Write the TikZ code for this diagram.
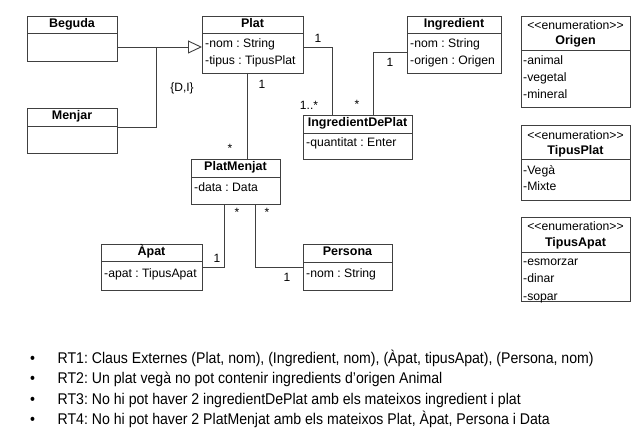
\documentclass[tikz,border=0pt]{standalone}
\usepackage{fontspec}
\setmainfont{Liberation Sans}
\newfontfamily\narrowfont{Liberation Sans}[FakeStretch=0.91]
\usetikzlibrary{arrows.meta}
\definecolor{lc}{HTML}{404040}
\frenchspacing
\newcommand{\enumst}{<\kern0pt<enumeration>\kern0pt>}
\begin{document}
\begin{tikzpicture}[x=1pt,y=-1pt,
  cls/.style={draw=lc, line width=0.9pt, inner sep=0pt, anchor=north west, fill=white},
  ttl/.style={font=\fontsize{12.5}{14}\selectfont\bfseries, inner sep=0pt, text height=9pt, text depth=3pt},
  att/.style={font=\fontsize{12.2}{14}\selectfont, inner sep=0pt, anchor=west, text height=9pt, text depth=3pt},
  mul/.style={font=\fontsize{12}{14}\selectfont, inner sep=0pt},
  ln/.style={draw=lc, line width=0.9pt},
  bul/.style={font=\fontsize{15.5}{17}\selectfont\narrowfont, inner sep=0pt, anchor=west, text height=11pt, text depth=0pt}]
\useasboundingbox (0,0) rectangle (639,443);
% Beguda
\node[cls, minimum width=90pt, minimum height=45pt] (beguda) at (27,16) {};
\node[ttl] (begudaT) at (72,25) {Beguda};
\draw[ln] (27,33) -- (117,33);
% Menjar
\node[cls, minimum width=90pt, minimum height=45pt] (menjar) at (27,108) {};
\node[ttl] (menjarT) at (72,117) {Menjar};
\draw[ln] (27,126) -- (117,126);
% Plat
\node[cls, minimum width=101pt, minimum height=57pt] (plat) at (202,16) {};
\node[ttl] (platT) at (252.5,25) {Plat};
\draw[ln] (202,33) -- (303,33);
\node[att] (plat1) at (205,45) {-nom : String};
\node[att] (plat2) at (205,62) {-tipus : TipusPlat};
% Ingredient
\node[cls, minimum width=94pt, minimum height=57pt] (ingr) at (407,16) {};
\node[ttl] (ingrT) at (454,25) {Ingredient};
\draw[ln] (407,33) -- (501,33);
\node[att] (ingr1) at (410,45) {-nom : String};
\node[att] (ingr2) at (410,62) {-origen : Origen};
% IngredientDePlat
\node[cls, minimum width=109pt, minimum height=44pt] (idp) at (303,115) {};
\node[ttl] (idpT) at (357.5,124) {IngredientDePlat};
\draw[ln] (303,133) -- (412,133);
\node[att] (idp1) at (306,144) {-quantitat : Enter};
% PlatMenjat
\node[cls, minimum width=89pt, minimum height=45pt] (pm) at (191,159) {};
\node[ttl] (pmT) at (235.5,168) {PlatMenjat};
\draw[ln] (191,177) -- (280,177);
\node[att] (pm1) at (194,189) {-data : Data};
% Apat
\node[cls, minimum width=101pt, minimum height=46pt] (apat) at (101,244) {};
\node[ttl] (apatT) at (151.5,253) {Àpat};
\draw[ln] (101,261) -- (202,261);
\node[att] (apat1) at (104,274) {-apat : TipusApat};
% Persona
\node[cls, minimum width=89pt, minimum height=46pt] (pers) at (303,244) {};
\node[ttl] (persT) at (347.5,253) {Persona};
\draw[ln] (303,262) -- (392,262);
\node[att] (pers1) at (306,274) {-nom : String};
% Origen
\node[cls, minimum width=109pt, minimum height=91pt] (orig) at (521,16) {};
\node[att, anchor=center] (origS) at (575.5,27) {\enumst};
\node[ttl] (origT) at (575.5,42) {Origen};
\draw[ln] (521,50) -- (630,50);
\node[att] (orig1) at (523,62) {-animal};
\node[att] (orig2) at (523,79) {-vegetal};
\node[att] (orig3) at (523,96) {-mineral};
% TipusPlat
\node[cls, minimum width=109pt, minimum height=75pt] (tp) at (521,125) {};
\node[att, anchor=center] (tpS) at (575.5,137) {\enumst};
\node[ttl] (tpT) at (575.5,152) {TipusPlat};
\draw[ln] (521,159) -- (630,159);
\node[att] (tp1) at (523,172) {-Vegà};
\node[att] (tp2) at (523,188) {-Mixte};
% TipusApat
\node[cls, minimum width=109pt, minimum height=84pt] (ta) at (521,217) {};
\node[att, anchor=center] (taS) at (575.5,228) {\enumst};
\node[ttl] (taT) at (575.5,244) {TipusApat};
\draw[ln] (521,252) -- (630,252);
\node[att] (ta1) at (523,263) {-esmorzar};
\node[att] (ta2) at (523,280) {-dinar};
\node[att] (ta3) at (523,297) {-sopar};
% Connectors
\coordinate (g) at (156,47);
\draw[ln, -{Triangle[open, length=14pt, width=13pt, fill=white]}] (beguda.east |- g) -- (plat.west |- g);
\draw[ln] (menjar.east |- 0,127) -| (g);
\node[mul] (di) at (182,88) {\{D,I\}};
% Plat - IngredientDePlat
\coordinate (c1) at (332,47);
\draw[ln] (plat.east |- c1) -- (c1) -- (c1 |- idp.north);
\node[mul] (m1) at (318,38) {1};
\node[mul] (m2) at (309,105) {1..*};
% Ingredient - IngredientDePlat
\coordinate (c2) at (373,52);
\draw[ln] (ingr.west |- c2) -- (c2) -- (c2 |- idp.north);
\node[mul] (m3) at (390,62) {1};
\node[mul] (m4) at (357,104) {*};
% Plat - PlatMenjat
\coordinate (c3) at (247,73);
\draw[ln] (c3) -- (c3 |- pm.north);
\node[mul] (m5) at (262,84) {1};
\node[mul] (m6) at (230,148) {*};
% PlatMenjat - Apat
\coordinate (c4) at (224,267);
\draw[ln] (apat.east |- c4) -- (c4) -- (c4 |- pm.south);
\node[mul] (m7) at (217,258) {1};
\node[mul] (m8) at (237,212) {*};
% PlatMenjat - Persona
\coordinate (c5) at (255,267);
\draw[ln] (c5 |- pm.south) -- (c5) -- (pers.west |- c5);
\node[mul] (m9) at (267,212) {*};
\node[mul] (m10) at (287,277) {1};
% Bullets
\foreach \yy/\tx [count=\i] in {357.5/{RT1: Claus Externes (Plat, nom), (Ingredient, nom), (Àpat, tipusApat), (Persona, nom)},
  378/{RT2: Un plat vegà no pot contenir ingredients d’origen Animal},
  398.5/{RT3: No hi pot haver 2 ingredientDePlat amb els mateixos ingredient i plat},
  419/{RT4: No hi pot haver 2 PlatMenjat amb els mateixos Plat, Àpat, Persona i Data}}{
  \node[bul] (b\i) at (30,\yy) {•};
  \node[bul] (t\i) at (57.5,\yy) {\tx};
}
\end{tikzpicture}
\end{document}
